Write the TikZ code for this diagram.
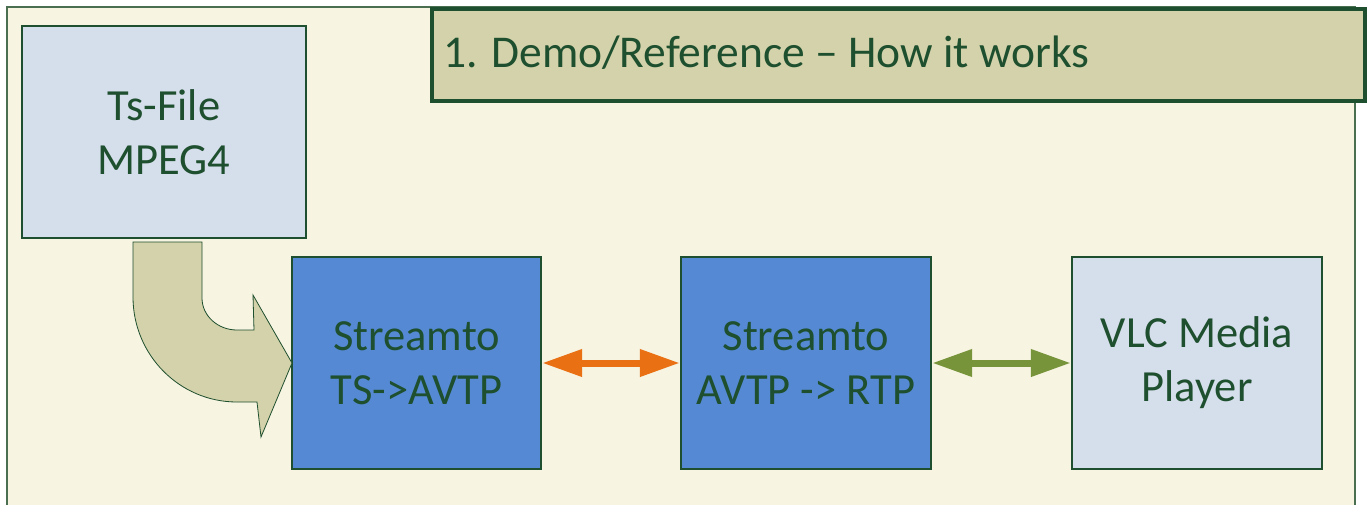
\documentclass[tikz,border=0pt]{standalone}
\usepackage{fontspec}
\setmainfont{Carlito}
\usetikzlibrary{arrows.meta}
\definecolor{cream}{HTML}{F7F4E1}
\definecolor{olive}{HTML}{D3D2AA}
\definecolor{darkgreen}{HTML}{1E4F2E}
\definecolor{framegreen}{HTML}{4A6E50}
\definecolor{paleblue}{HTML}{D5DEEB}
\definecolor{midblue}{HTML}{5589D3}
\definecolor{streamorange}{HTML}{EA7014}
\definecolor{leafgreen}{HTML}{77943A}

\begin{document}
\begin{tikzpicture}[x=1pt, y=-1pt,
  block/.style={draw=darkgreen, line width=1.2pt, minimum width=#1, minimum height=212pt,
    align=center, text=darkgreen, font=\fontsize{44.5}{54}\selectfont, inner sep=0pt},
  block/.default=250pt,
  biarrow/.style={line width=7pt, {Triangle[length=40pt,width=26pt]}-{Triangle[length=40pt,width=26pt]}, shorten <=0.6pt, shorten >=0.6pt}]
\useasboundingbox (0,0) rectangle (1370,504);
\clip (0,0) rectangle (1370,504);
% frame
\draw[fill=cream, draw=framegreen, line width=1.5pt] (7,7) rectangle (1355,530);
\draw[fill=olive, draw=darkgreen, line width=4pt] (432,9) rectangle (1365,101);
\node[anchor=base west, inner sep=0pt, text=darkgreen, font=\fontsize{45.5}{54}\selectfont] (title) at (443,67) {1. Demo/Reference -- How it works};
% blocks
\node[block=284pt, fill=paleblue] (tsfile) at (164,132) {Ts-File\\MPEG4};
\node[block=249pt, fill=midblue] (tsavtp) at (416.5,363) {Streamto\\TS->AVTP};
\node[block=250pt, fill=midblue] (avtprtp) at (806,363) {Streamto\\AVTP -> RTP};
\node[block=250pt, fill=paleblue] (vlc) at (1197,363) {VLC Media\\Player};
% curved arrow
\draw[fill=olive, draw=darkgreen, line width=0.8pt]
  (133,242) -- (202,242) -- (202,298)
  .. controls (202,315.7) and (217.7,330) .. (237,330)
  -- (254,330) -- (253,295) -- (292,363) -- (261,437) -- (257,402) -- (237,402)
  .. controls (179.6,402) and (133,355) .. (133,297) -- cycle;
% links
\draw[biarrow, streamorange] (tsavtp.east) -- (avtprtp.west);
\draw[biarrow, leafgreen] (avtprtp.east) -- (vlc.west);
\end{tikzpicture}
\end{document}
